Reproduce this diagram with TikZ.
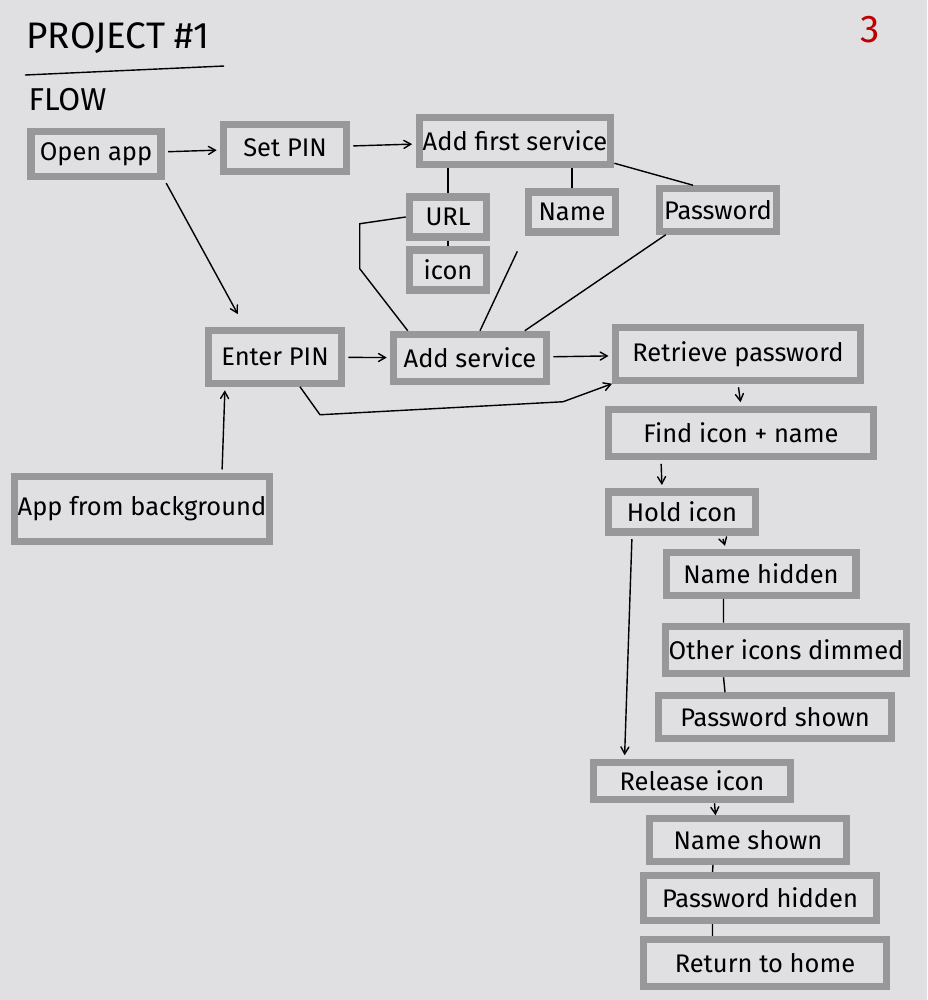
\documentclass[tikz,border=0pt]{standalone}
\usepackage{fontspec}
\setmainfont{Fira Sans}
\usetikzlibrary{arrows,positioning}
\definecolor{paper}{RGB}{224,224,226}
\definecolor{marker}{RGB}{152,152,154}

\begin{document}
\begin{tikzpicture}[->,>=angle 60, x=0.02cm, y=-0.02cm, thick,
	every node/.style={font=\fontsize{14.5}{17}\selectfont, text=black},
	box/.style={draw=marker, line width=4pt, inner sep=2pt, minimum height=0.9cm},
	link/.style={-}
	]
\useasboundingbox[fill=paper, draw=none, -] (0,0) rectangle (927,1000);
% heading
\node[anchor=west, font=\fontsize{21}{24}\selectfont] (title) at (20,38) {PROJECT \#1};
\draw[-] ([yshift=-0.3cm, xshift=0.1cm]title.south west) -- ([yshift=-0.12cm, xshift=0.15cm]title.south east);
\node[anchor=west, font=\fontsize{18}{20}\selectfont] (flow) at (22,100) {FLOW};
\node[font=\fontsize{22}{24}\selectfont, text=red!75!black] (page) at (870,30) {3};
% first start
\node[box, minimum width=2.6cm]                      (open)      at (96,154)  {Open app};
\node[box, minimum width=2.45cm, minimum height=0.95cm] (setpin) at (285,148) {Set PIN};
\node[box, minimum width=3.7cm, minimum height=0.95cm]  (addfirst) at (515,141) {Add first service};
\node[box, minimum width=1.55cm, minimum height=0.8cm]  (url)     at (448,217) {URL};
\node[box, minimum width=1.75cm, minimum height=0.8cm]  (name)    at (572,212) {Name};
\node[box, minimum width=2.35cm, minimum height=0.85cm] (pwd)     at (718,210) {Password};
\node[box, minimum width=1.55cm, minimum height=0.8cm]  (icon)    at (448,270) {icon};
% later starts
\node[box, minimum width=2.65cm, minimum height=1.05cm] (enter)   at (275,357) {Enter PIN};
\node[box, minimum width=3.05cm, minimum height=0.95cm] (addsvc)  at (470,358) {Add service};
\node[box, minimum width=4.9cm, minimum height=1.05cm]  (retrieve) at (738,354) {Retrieve password};
\node[box, minimum width=4.9cm, minimum height=1.3cm]   (appbg)   at (142,509) {App from background};
% retrieving
\node[box, minimum width=5.3cm, minimum height=0.95cm]  (find)    at (741,433) {Find icon + name};
\node[box, minimum width=2.95cm, minimum height=0.8cm]  (hold)    at (682,512) {Hold icon};
\node[box, minimum width=3.8cm, minimum height=0.85cm]  (namehid) at (761,574) {Name hidden};
\node[box, minimum width=4.8cm, minimum height=0.95cm]  (other)   at (786,650) {Other icons dimmed};
\node[box, minimum width=4.65cm, minimum height=0.85cm] (pwdshown) at (775,717) {Password shown};
\node[box, minimum width=3.95cm, minimum height=0.75cm] (release) at (692,781) {Release icon};
\node[box, minimum width=3.95cm, minimum height=0.85cm] (nameshown) at (748,840) {Name shown};
\node[box, minimum width=4.65cm, minimum height=0.9cm]  (pwdhid)  at (760,898) {Password hidden};
\node[box, minimum width=4.85cm, minimum height=0.95cm] (home)    at (765,963) {Return to home};

\path[shorten >=2pt, shorten <=2pt]
(open)     edge (setpin)
(setpin)   edge (addfirst)
(enter)    edge (addsvc)
(addsvc)   edge (retrieve)
(open.south east) edge[shorten >=0.3cm] ([xshift=-0.6cm]enter.north)
([xshift=1.6cm]appbg.north) edge ([xshift=-1cm]enter.south)
(retrieve.south) edge (find.north)
([xshift=-1.6cm]find.south) edge ([xshift=-0.4cm]hold.north)
([xshift=0.8cm]hold.south) edge ([xshift=-0.7cm]namehid.north)
([xshift=-1cm]hold.south) edge ([xshift=-1.35cm]release.north)
;
\path
([xshift=0.45cm]release.south) edge ([xshift=-0.65cm]nameshown.north)
;
\path[link]
(addfirst.south -| url)  edge (url.north)
(addfirst.south -| name) edge (name.north)
([yshift=0.1cm]addfirst.south east) edge ([xshift=-0.5cm]pwd.north)
(url)                    edge (icon)
([xshift=0.2cm]addsvc.north) edge[shorten >=0.35cm] (name.south west)
([xshift=-0.5cm]addsvc.north east) edge ([xshift=0.2cm]pwd.south west)
([xshift=-0.75cm]namehid.south) edge ([xshift=-1.25cm]other.north)
([xshift=-1.25cm]other.south) edge ([xshift=-1cm]pwdshown.north)
([xshift=-0.7cm]nameshown.south) edge ([xshift=-0.95cm]pwdhid.north)
([xshift=-0.95cm]pwdhid.south) edge ([xshift=-1.05cm]home.north)
;
% bends
\draw[-] ([xshift=0.35cm]addsvc.north west) -- ++(-48,-62) -- ++(0,-45) -- (url.west);
\draw ([xshift=0.5cm]enter.south) -- ++(20,28) -- ++(243,-13) -- (retrieve.south west);
\end{tikzpicture}
\end{document}
